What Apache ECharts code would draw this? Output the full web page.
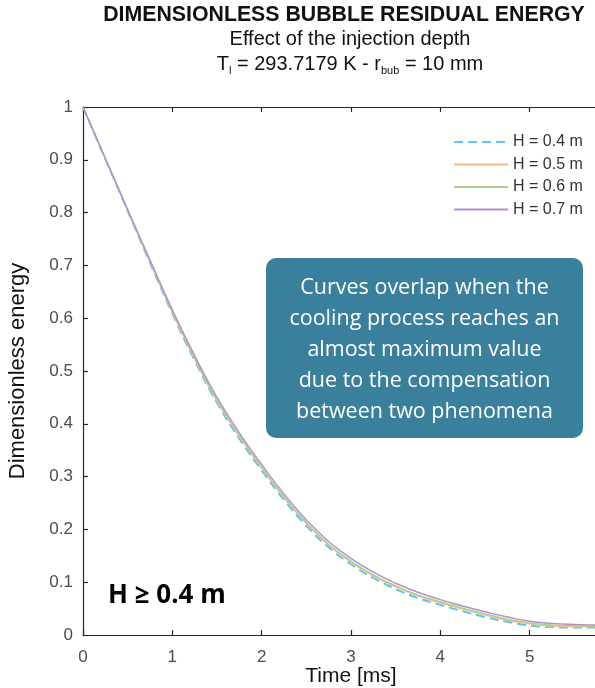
<!DOCTYPE html>
<html>
<head>
<meta charset="utf-8">
<script src="https://cdn.jsdelivr.net/npm/echarts@6/dist/echarts.min.js"></script>
<style>html,body{margin:0;padding:0;background:#fff}#c{width:595px;height:688px}</style>
</head>
<body>
<div id="c"></div>
<script>
// Time [ms]
const time = [0, 0.25, 0.5, 0.75, 1.0, 1.25, 1.5, 1.75, 2.0, 2.25, 2.5, 2.75, 3.0, 3.25, 3.5, 3.75, 4.0, 4.25, 4.5, 4.75, 5.0, 5.25, 5.5, 5.75, 6.0];
// Dimensionless energy per injection depth
const h04 = [1.000, 0.901, 0.803, 0.705, 0.609, 0.520, 0.440, 0.372, 0.312, 0.256, 0.207, 0.166, 0.134, 0.108, 0.087, 0.070, 0.057, 0.045, 0.034, 0.025, 0.018, 0.015, 0.014, 0.014, 0.014];
const h05 = [1.000, 0.902, 0.804, 0.707, 0.611, 0.523, 0.443, 0.376, 0.316, 0.260, 0.211, 0.170, 0.138, 0.112, 0.091, 0.074, 0.061, 0.049, 0.038, 0.028, 0.021, 0.017, 0.016, 0.016, 0.016];
const h06 = [1.000, 0.902, 0.805, 0.708, 0.613, 0.525, 0.445, 0.378, 0.318, 0.262, 0.213, 0.172, 0.140, 0.114, 0.093, 0.076, 0.063, 0.051, 0.040, 0.030, 0.023, 0.019, 0.018, 0.017, 0.017];
const h07 = [1.000, 0.903, 0.806, 0.710, 0.616, 0.529, 0.450, 0.383, 0.323, 0.267, 0.218, 0.177, 0.145, 0.119, 0.098, 0.081, 0.067, 0.055, 0.044, 0.034, 0.026, 0.022, 0.020, 0.019, 0.019];
const seriesNames = ['H = 0.4 m', 'H = 0.5 m', 'H = 0.6 m', 'H = 0.7 m'];
const xTicks = [0, 1, 2, 3, 4, 5, 6];
const yTicks = [0, 0.1, 0.2, 0.3, 0.4, 0.5, 0.6, 0.7, 0.8, 0.9, 1];

const pair = arr => time.map((t, i) => [t, arr[i]]);
const AX = '#262626';
const FONT = 'Liberation Sans, Arial, sans-serif';

const chart = echarts.init(document.getElementById('c'), null, {renderer: 'canvas'});
const mk = (name, data, color, dashed, w) => ({
  name, type: 'line', data: pair(data), smooth: true, symbol: 'none',
  lineStyle: {color, width: w, type: dashed ? [9, 5] : 'solid'},
  itemStyle: {color}, z: 3
});
chart.setOption({
  animation: false,
  grid: {left: 83, top: 107, width: 536, height: 528, outerBoundsMode: 'none', containLabel: false},
  xAxis: [{
    type: 'value', min: xTicks[0], max: xTicks[xTicks.length - 1], interval: 1,
    name: 'Time [ms]', nameLocation: 'middle', nameGap: 31, nameMoveOverlap: false,
    nameTextStyle: {fontFamily: FONT, fontSize: 21, color: '#111', lineHeight: 21},
    axisLine: {show: true, lineStyle: {color: AX, width: 1.2}},
    axisTick: {show: true, inside: true, length: 5, lineStyle: {color: AX, width: 1.2}},
    axisLabel: {fontFamily: FONT, fontSize: 17, color: '#4d4d4d', margin: 14, showMaxLabel: false},
    splitLine: {show: false}
  }, {
    type: 'value', position: 'top', min: xTicks[0], max: xTicks[xTicks.length - 1], interval: 1,
    axisLine: {show: true, onZero: false, lineStyle: {color: AX, width: 1.2}},
    axisTick: {show: true, inside: true, length: 5, lineStyle: {color: AX, width: 1.2}},
    axisLabel: {show: false}, splitLine: {show: false}
  }],
  yAxis: [{
    type: 'value', min: yTicks[0], max: yTicks[yTicks.length - 1], interval: 0.1,
    name: 'Dimensionless energy', nameLocation: 'middle', nameGap: 54, nameMoveOverlap: false,
    nameTextStyle: {fontFamily: FONT, fontSize: 22, color: '#111'},
    axisLine: {show: true, lineStyle: {color: AX, width: 1.2}},
    axisTick: {show: true, inside: true, length: 5, lineStyle: {color: AX, width: 1.2}},
    axisLabel: {fontFamily: FONT, fontSize: 17, color: '#4d4d4d', margin: 10},
    splitLine: {show: false}
  }],
  legend: {
    orient: 'vertical', left: 453, top: 134, padding: 0, data: seriesNames,
    itemWidth: 54, itemHeight: 14, itemGap: 6.5,
    itemStyle: {opacity: 0},
    textStyle: {fontFamily: FONT, fontSize: 16, color: '#333', lineHeight: 14},
    backgroundColor: 'transparent'
  },
  series: [
    mk(seriesNames[0], h04, '#5cc6ef', true, 2),
    mk(seriesNames[1], h05, '#f3bd85', false, 1.4),
    mk(seriesNames[2], h06, '#a8d08c', false, 1.4),
    mk(seriesNames[3], h07, '#b48ecf', false, 1.4)
  ],
  graphic: [
    {type: 'text', style: {x: 344, y: 15, text: 'DIMENSIONLESS BUBBLE RESIDUAL ENERGY', align: 'center', verticalAlign: 'middle', font: 'bold 21.3px ' + FONT, fill: '#111'}},
    {type: 'text', style: {x: 350, y: 39, text: 'Effect of the injection depth', align: 'center', verticalAlign: 'middle', font: '20px ' + FONT, fill: '#111'}},
    {type: 'text', style: {x: 350, y: 64, align: 'center', verticalAlign: 'middle',
      text: '{n|T}{s|l}{n| = 293.7179 K - r}{s|bub}{n| = 10 mm}',
      rich: {
        n: {fontFamily: FONT, fontSize: 20, lineHeight: 24, fill: '#111'},
        s: {fontFamily: FONT, fontSize: 11, lineHeight: 14, padding: [14, 0, 0, 0], fill: '#111'}
      }}},
    {type: 'rect', shape: {x: 266, y: 258, width: 317, height: 180, r: 10}, style: {fill: '#3a7f9c'}, z: 10},
    {type: 'text', z: 11, style: {x: 424.5, y: 350, align: 'center', verticalAlign: 'middle',
      text: 'Curves overlap when the\ncooling process reaches an\nalmost maximum value\ndue to the compensation\nbetween two phenomena',
      font: '21.5px Open Sans, sans-serif', lineHeight: 31, fill: '#ffffff'}},
    {type: 'text', z: 11, style: {x: 108, y: 596, align: 'left', verticalAlign: 'middle', text: 'H ≥ 0.4 m', font: 'bold 26px Open Sans, sans-serif', fill: '#000'}}
  ]
});
</script>
</body>
</html>
